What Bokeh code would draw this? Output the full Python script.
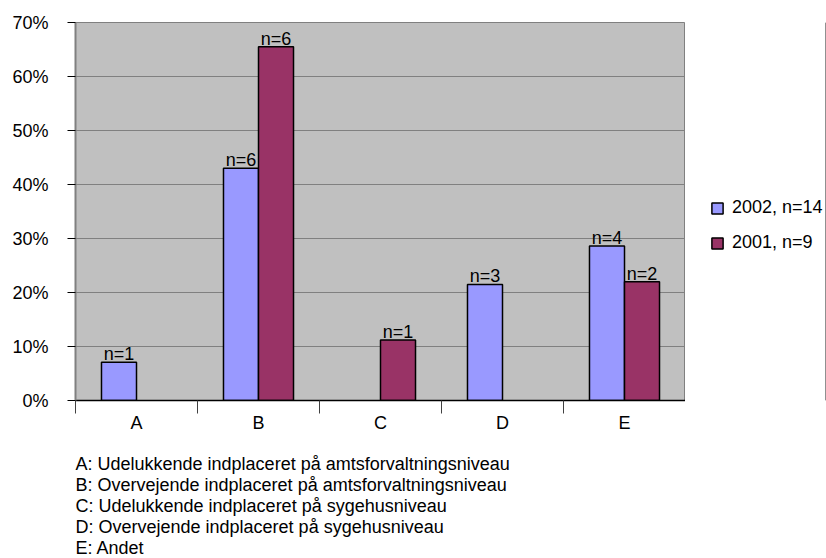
from bokeh.plotting import figure
from bokeh.layouts import column, row
from bokeh.models import (ColumnDataSource, FixedTicker, NumeralTickFormatter, Legend,
                          LegendItem, LabelSet, Range1d)
from bokeh.core.properties import value
from bokeh.embed import file_html
from bokeh.resources import INLINE

# Share of units per placement category, by survey year
categories = ["A", "B", "C", "D", "E"]
share_2002 = [0.071, 0.430, None, 0.215, 0.286]
share_2001 = [None, 0.655, 0.112, None, 0.220]
count_2002 = ["n=1", "n=6", "", "n=3", "n=4"]
count_2001 = ["", "n=6", "n=1", "", "n=2"]
series_names = ["2002, n=14", "2001, n=9"]
y_ticks = [0.0, 0.1, 0.2, 0.3, 0.4, 0.5, 0.6, 0.7]
footnotes = [
    "A: Udelukkende indplaceret på amtsforvaltningsniveau",
    "B: Overvejende indplaceret på amtsforvaltningsniveau",
    "C: Udelukkende indplaceret på sygehusniveau",
    "D: Overvejende indplaceret på sygehusniveau",
    "E: Andet",
]

FONT = "Liberation Sans"
FS = "18px"
BLUE = "#9999FF"
PLUM = "#993366"
BAR_W = 0.287
TOP_H = 436           # height of the chart row
FOOT_H = 558 - TOP_H  # height of the key below it


def series_source(values, labels, shift):
    xs, ys, ts = [], [], []
    for i, (v, t) in enumerate(zip(values, labels)):
        if v is None:
            continue
        xs.append(i + 0.5 + shift)
        ys.append(v)
        ts.append(t)
    return ColumnDataSource(dict(x=xs, top=ys, label=ts))


src_2002 = series_source(share_2002, count_2002, -BAR_W / 2)
src_2001 = series_source(share_2001, count_2001, BAR_W / 2)

# ---- main bar chart -------------------------------------------------------
p = figure(width=685, height=TOP_H, output_backend="svg", toolbar_location=None,
           x_range=Range1d(0, len(categories)), y_range=Range1d(0, 0.7),
           min_border_left=75, min_border_right=0, min_border_top=22,
           min_border_bottom=36)

p.background_fill_color = "#C0C0C0"
p.border_fill_color = "white"
p.outline_line_color = "#808080"
p.outline_line_width = 1

p.vbar(x="x", top="top", width=BAR_W, source=src_2002, fill_color=BLUE,
       line_color="black", line_width=1.5)
p.vbar(x="x", top="top", width=BAR_W, source=src_2001, fill_color=PLUM,
       line_color="black", line_width=1.5)

for src in (src_2002, src_2001):
    p.add_layout(LabelSet(x="x", y="top", text="label", source=src, y_offset=2,
                          text_align="center", text_baseline="alphabetic",
                          text_font=value(FONT), text_font_size=value(FS),
                          text_color="black"))

p.xgrid.visible = False
p.ygrid.grid_line_color = "#808080"
p.ygrid.grid_line_width = 1
p.ygrid.ticker = FixedTicker(ticks=y_ticks)

p.yaxis.ticker = FixedTicker(ticks=y_ticks, minor_ticks=[])
p.yaxis.formatter = NumeralTickFormatter(format="0%")
p.yaxis.axis_line_color = "#808080"
p.yaxis.axis_line_width = 2
p.yaxis.major_tick_line_color = "black"
p.yaxis.major_tick_in = 0
p.yaxis.major_tick_out = 8
p.yaxis.minor_tick_line_color = None
p.yaxis.major_label_standoff = 19
p.yaxis.major_label_text_font = FONT
p.yaxis.major_label_text_font_size = FS
p.yaxis.major_label_text_color = "black"

# category names centred, tick marks on the category boundaries
centres = [i + 0.5 for i in range(len(categories))]
p.xaxis.ticker = FixedTicker(ticks=centres,
                             minor_ticks=list(range(len(categories) + 1)))
p.xaxis.major_label_overrides = {c: lab for c, lab in zip(centres, categories)}
p.xaxis.major_tick_in = 0
p.xaxis.major_tick_out = 0
p.xaxis.minor_tick_in = 0
p.xaxis.minor_tick_out = 13
p.xaxis.minor_tick_line_color = "#404040"
p.xaxis.axis_line_color = "black"
p.xaxis.axis_line_width = 1.5
p.xaxis.major_label_standoff = -1
p.xaxis.major_label_text_font = FONT
p.xaxis.major_label_text_font_size = FS
p.xaxis.major_label_text_color = "black"

# ---- legend panel to the right (its frame lines up with the chart frame) ----
leg = figure(width=826 - 685, height=TOP_H, output_backend="svg",
             toolbar_location=None, min_border=0,
             x_axis_location=None, y_axis_location=None,
             x_range=Range1d(0, 1), y_range=Range1d(0, 1))
leg.grid.visible = False
leg.outline_line_color = None
# swatch renderers sit outside the visible range; only their legend entries show
k1 = leg.vbar(x=[5], top=[5], width=0.1, fill_color=BLUE, line_color="black",
              line_width=1.5)
k2 = leg.vbar(x=[5], top=[5], width=0.1, fill_color=PLUM, line_color="black",
              line_width=1.5)
leg.add_layout(Legend(items=[LegendItem(label=series_names[0], renderers=[k1]),
                             LegendItem(label=series_names[1], renderers=[k2])],
                      location=(25, 147), orientation="vertical",
                      glyph_width=14, glyph_height=14, label_height=14,
                      label_standoff=8, spacing=14, padding=0, margin=0,
                      border_line_color=None, background_fill_alpha=0,
                      label_text_font=FONT, label_text_font_size=FS,
                      label_text_color="black"))

# ---- category key below the chart ------------------------------------------
foot = figure(width=826, height=FOOT_H, output_backend="svg", toolbar_location=None,
              min_border=0, x_axis_location=None, y_axis_location=None,
              x_range=Range1d(0, 826), y_range=Range1d(FOOT_H, 0))
foot.grid.visible = False
foot.outline_line_color = None
line_y = [27 + 21 * k for k in range(len(footnotes))]
foot.text(x=[75] * len(footnotes), y=line_y, text=footnotes,
          text_font=value(FONT), text_font_size=value(FS),
          text_baseline="middle", text_align="left", text_color="black")

layout = column(row(p, leg), foot)
open("out.html", "w").write(file_html(layout, INLINE))
